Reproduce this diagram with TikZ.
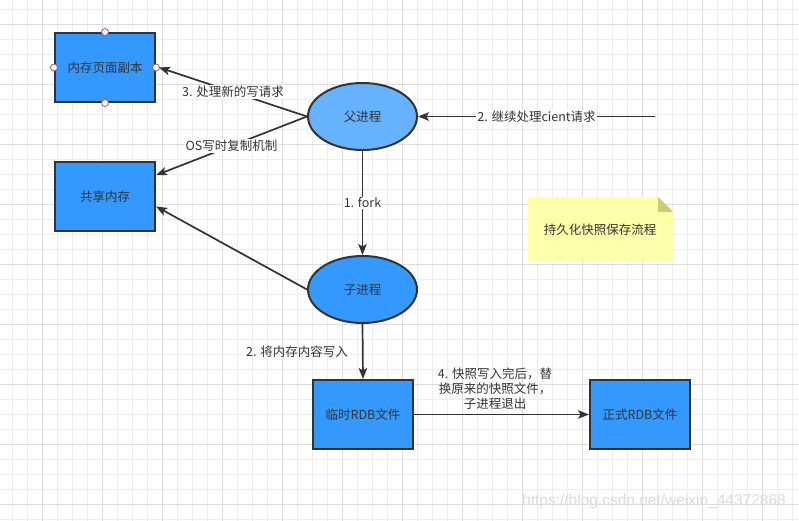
\documentclass[tikz,border=0pt]{standalone}
\usepackage{fontspec}
\setmainfont{Noto Sans CJK SC}
\newfontfamily\wmfont{Liberation Sans}
\usetikzlibrary{shapes.geometric,arrows.meta,calc}
\definecolor{gridminor}{HTML}{EDEDED}
\definecolor{gridmajor}{HTML}{DEDEDE}
\definecolor{boxblue}{HTML}{3399FF}
\definecolor{lightblue}{HTML}{66B2FF}
\definecolor{edgegray}{HTML}{333333}
\definecolor{notefill}{HTML}{FFFFAA}
\definecolor{notefold}{HTML}{CCCC77}
\definecolor{handle}{HTML}{B85450}
\tikzset{
  txt/.style={font=\fontsize{12.5}{15}\selectfont, text=edgegray},
  boxnode/.style={txt, draw=edgegray, line width=2pt, fill=boxblue, minimum width=100pt, minimum height=69pt, inner sep=0pt},
  ellnode/.style={txt, ellipse, draw=edgegray, line width=2pt, minimum width=109pt, minimum height=67pt, inner sep=0pt},
  conn/.style={draw=edgegray, line width=1.7pt, -{Stealth[length=11pt,width=8.5pt,inset=2.5pt]}},
  lbl/.style={txt, fill=white, inner sep=1pt},
  hdl/.style={circle, draw=handle, fill=white, line width=0.8pt, minimum size=7pt, inner sep=0pt},
}
\begin{document}
\begin{tikzpicture}[x=1pt,y=-1pt]
\useasboundingbox (0,0) rectangle (799,521);
\fill[white] (0,0) rectangle (799,521);
% grid
\foreach \x in {12,27,...,799} \draw[gridminor, line width=0.8pt] (\x,0) -- (\x,521);
\foreach \y in {9,24,...,521} \draw[gridminor, line width=0.8pt] (0,\y) -- (799,\y);
\foreach \x in {42,102,...,799} \draw[gridmajor, line width=0.9pt] (\x,0) -- (\x,521);
\foreach \y in {24,84,...,521} \draw[gridmajor, line width=0.9pt] (0,\y) -- (799,\y);
% watermark
\node[font=\wmfont\fontsize{15.5}{18}\selectfont, text=black!14, anchor=center] (wm) at (654,501) {https://blog.csdn.net/weixin\_44372868};
% nodes
\node[boxnode] (copy) at (105,67.5) {内存页面副本};
\node[boxnode] (share) at (105,196.5) {共享内存};
\node[ellnode, fill=lightblue] (fu) at (362.5,116.5) {父进程};
\node[ellnode, fill=boxblue] (zi) at (362.5,289.5) {子进程};
\node[boxnode] (tmp) at (363,414.5) {临时RDB文件};
\node[boxnode] (rdb) at (640,414.5) {正式RDB文件};
% note
\fill[notefill] (528,197) -- (658,197) -- (673,212) -- (673,261) -- (528,261) -- cycle;
\fill[notefold] (658,197) -- (673,212) -- (658,212) -- cycle;
\node[txt] (note) at (600,229.5) {持久化快照保存流程};
% handles
\node[hdl] (h1) at (copy.north) {};
\node[hdl] (h2) at (copy.south) {};
\node[hdl] (h3) at (copy.west) {};
\node[hdl] (h4) at (copy.east) {};
% connectors
\coordinate (shareA) at ($(share.north east)!0.2!(share.south east)$);
\coordinate (shareB) at ($(share.north east)!0.64!(share.south east)$);
\coordinate (client) at (655,116.5);
\draw[conn] (fu.west) -- node[lbl, pos=0.5] {3. 处理新的写请求} ($(copy.east)+(3,0)$);
\draw[conn] (fu.west) -- node[lbl, pos=0.5] {OS写时复制机制} (shareA);
\draw[conn] (zi.west) -- (shareB);
\draw[conn] (fu.south) -- node[lbl, pos=0.5] {1. fork} (zi.north);
\draw[conn] (client) -- node[lbl, pos=0.5] {2. 继续处理cient请求} (fu.east);
\draw[conn] (zi.south) -- (tmp.north);
\node[txt] (l2) at (297,352) {2. 将内存内容写入};
\draw[conn] (tmp.east) -- (rdb.west);
\node[txt, align=center, inner sep=0pt] (l4) at (495,389) {4. 快照写入完后，替\\换原来的快照文件，\\子进程退出};
\end{tikzpicture}
\end{document}
